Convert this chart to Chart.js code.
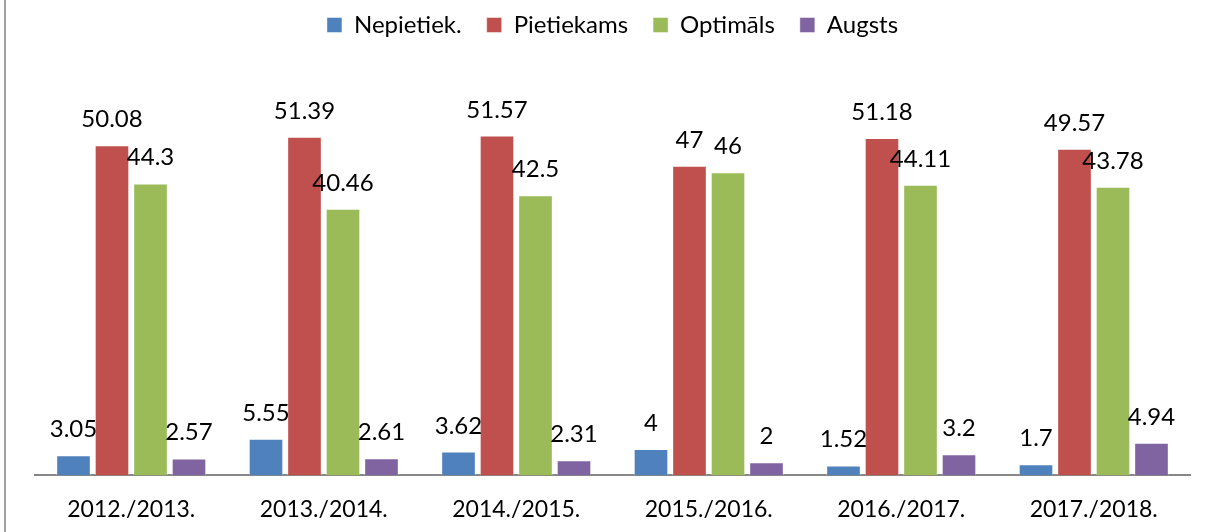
<!DOCTYPE html>
<html lang="lv">
<head>
  <meta charset="UTF-8" />
  <title>Līmeņi pa gadiem</title>
  <script src="https://cdn.jsdelivr.net/npm/chart.js"></script>
  <style>
    html, body { margin: 0; padding: 0; background: #fff; }
    .wrap { position: relative; width: 1206px; height: 532px; }
    .edge { position: absolute; left: 4px; top: 0; width: 2px; height: 532px; background: #a0a0a0; }
  </style>
</head>
<body>
  <div class="wrap">
    <div class="edge"></div>
    <canvas id="chart" width="1206" height="532"></canvas>
  </div>

  <script>
    const years = ["2012./2013.", "2013./2014.", "2014./2015.", "2015./2016.", "2016./2017.", "2017./2018."];
    const nepietiek = [3.05, 5.55, 3.62, 4, 1.52, 1.7];
    const pietiekams = [50.08, 51.39, 51.57, 47, 51.18, 49.57];
    const optimals = [44.3, 40.46, 42.5, 46, 44.11, 43.78];
    const augsts = [2.57, 2.61, 2.31, 2, 3.2, 4.94];

    const font = 'Lato, "Open Sans", sans-serif';

    // value labels above every bar
    const barLabels = {
      id: 'barLabels',
      afterDatasetsDraw(chart) {
        const ctx = chart.ctx;
        ctx.save();
        ctx.font = '24px ' + font;
        ctx.fillStyle = '#000';
        ctx.textAlign = 'center';
        ctx.textBaseline = 'alphabetic';
        chart.data.datasets.forEach((ds, i) => {
          chart.getDatasetMeta(i).data.forEach((bar, j) => {
            ctx.fillText(String(ds.data[j]), bar.x, bar.y - 18);
          });
        });
        ctx.restore();
      }
    };

    new Chart(document.getElementById('chart'), {
      type: 'bar',
      data: {
        labels: years,
        datasets: [
          { label: 'Nepietiek.', data: nepietiek, backgroundColor: '#4F81BD' },
          { label: 'Pietiekams', data: pietiekams, backgroundColor: '#C0504D' },
          { label: 'Optimāls', data: optimals, backgroundColor: '#9BBB59' },
          { label: 'Augsts', data: augsts, backgroundColor: '#8064A2' }
        ].map(d => Object.assign(d, { borderColor: 'rgba(255,255,255,0.45)', borderWidth: 1 }))
      },
      options: {
        responsive: false,
        animation: false,
        layout: { padding: { left: 35, right: 16, top: -12, bottom: -11 } },
        plugins: {
          tooltip: { enabled: false },
          legend: {
            position: 'top',
            labels: {
              font: { family: font, size: 24 },
              color: '#000',
              boxWidth: 15,
              boxHeight: 15,
              padding: 25
            }
          }
        },
        scales: {
          x: {
            grid: { display: false, drawTicks: false },
            border: { color: '#878787', width: 2 },
            ticks: { font: { family: font, size: 23 }, color: '#000', padding: 20 }
          },
          y: {
            display: false,
            min: 0,
            max: 65
          }
        }
      },
      plugins: [barLabels]
    });
  </script>
</body>
</html>
